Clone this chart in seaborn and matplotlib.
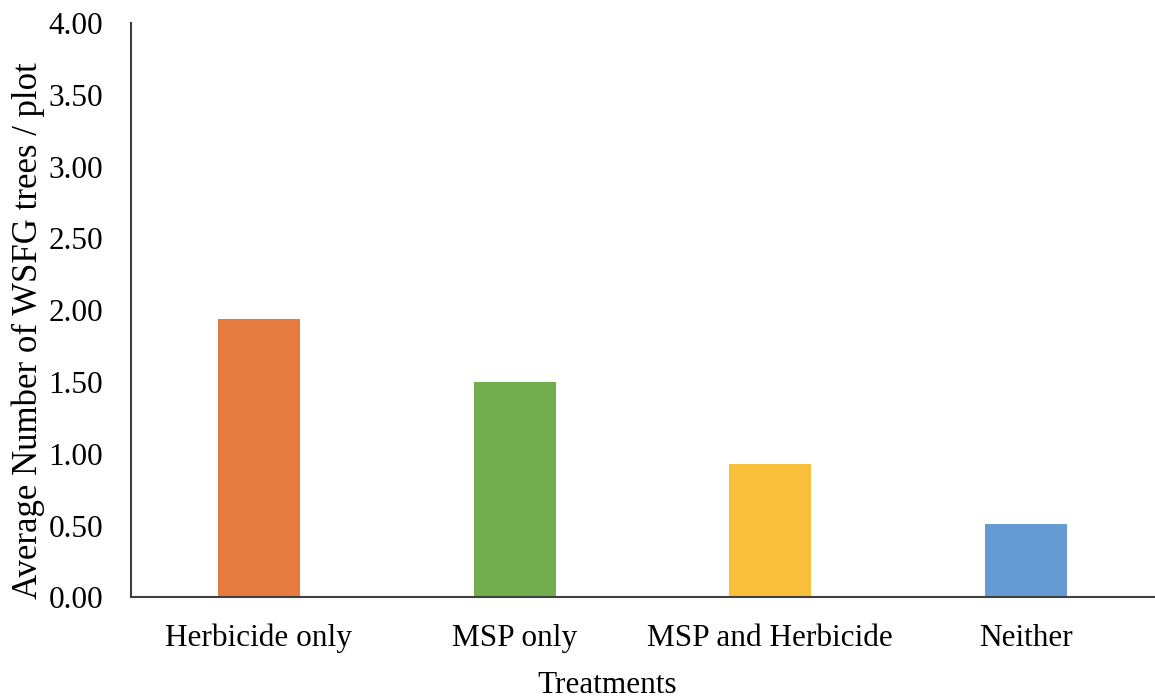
import matplotlib
matplotlib.use("Agg")
import matplotlib.pyplot as plt
import seaborn as sns
import pandas as pd
from matplotlib.ticker import FormatStrFormatter

treatments = ["Herbicide only", "MSP only", "MSP and Herbicide", "Neither"]
avg_trees = [1.94, 1.50, 0.93, 0.51]
bar_colors = ["#E67B40", "#72AE4E", "#F8C03A", "#659AD2"]
y_ticks = [0.0, 0.5, 1.0, 1.5, 2.0, 2.5, 3.0, 3.5, 4.0]

sns.set_theme(style="white")
plt.rcParams["font.family"] = ["Liberation Serif", "DejaVu Serif"]

df = pd.DataFrame({"Treatment": treatments, "Trees": avg_trees})

fig = plt.figure(figsize=(11.55, 6.98), dpi=100)
ax = fig.add_axes([0.1134, 0.144, 0.8857, 0.823])

sns.barplot(data=df, x="Treatment", y="Trees", hue="Treatment",
            palette=bar_colors, width=0.32, legend=False, ax=ax,
            saturation=1, edgecolor="none")

ax.set_xlim(-0.5, 3.5)
ax.set_ylim(0, 4.0)
ax.set_yticks(y_ticks)
ax.yaxis.set_major_formatter(FormatStrFormatter("%.2f"))
ax.tick_params(axis="both", length=0, labelsize=22.5, colors="black")
ax.tick_params(axis="y", pad=20)
ax.tick_params(axis="x", pad=19)

ax.set_xlabel("Treatments", fontsize=22.5, color="black")
ax.set_ylabel("Average Number of WSFG trees / plot", fontsize=25, color="black")
ax.xaxis.set_label_coords(0.466, -0.128)
ax.yaxis.set_label_coords(-0.084, 0.464)

for side in ["top", "right"]:
    ax.spines[side].set_visible(False)
for side in ["left", "bottom"]:
    ax.spines[side].set_color("#404040")
    ax.spines[side].set_linewidth(1.5)

fig.savefig("out.png", dpi=100)
